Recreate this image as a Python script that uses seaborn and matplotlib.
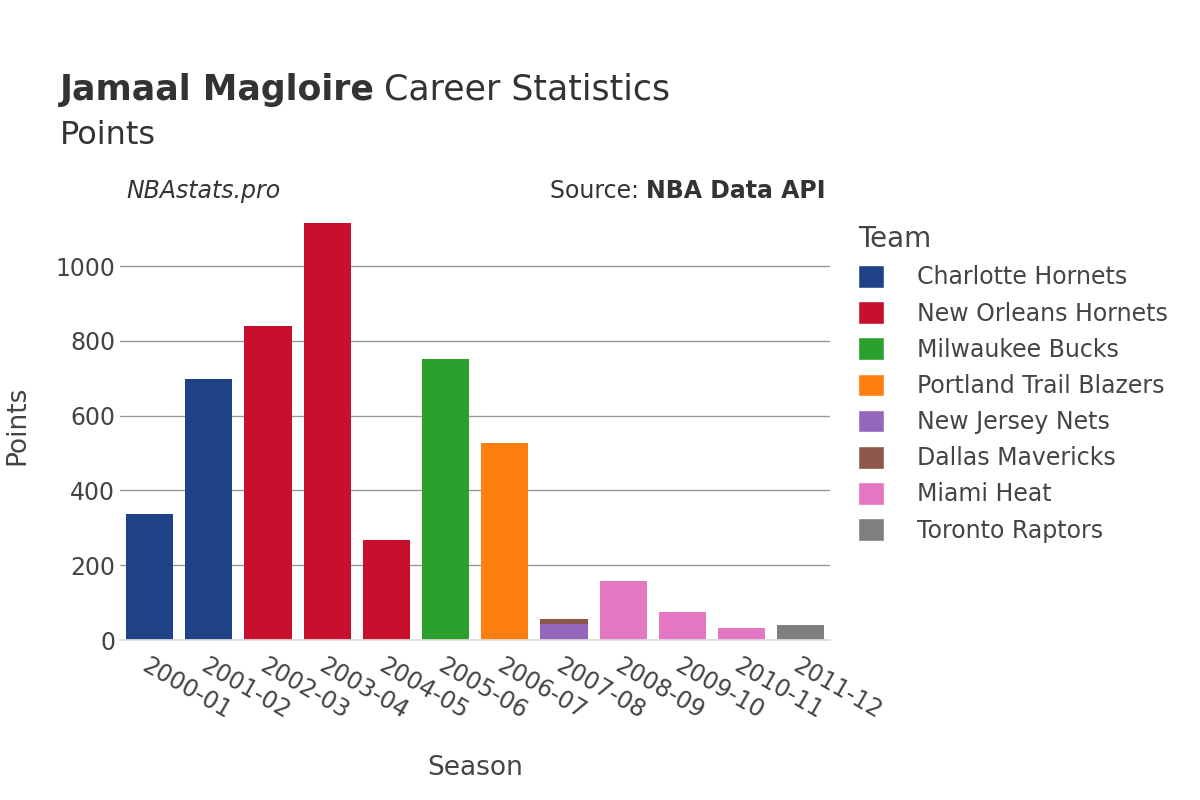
import matplotlib
matplotlib.use("Agg")
import matplotlib.pyplot as plt
import seaborn as sns
import pandas as pd
from matplotlib.patches import Patch

seasons = ["2000-01", "2001-02", "2002-03", "2003-04", "2004-05", "2005-06",
           "2006-07", "2007-08", "2008-09", "2009-10", "2010-11", "2011-12"]
teams = ["Charlotte Hornets", "New Orleans Hornets", "Milwaukee Bucks",
         "Portland Trail Blazers", "New Jersey Nets", "Dallas Mavericks",
         "Miami Heat", "Toronto Raptors"]
colors = ["#1f4287", "#c8102e", "#2ca02c", "#ff7f0e", "#9467bd", "#8c564b",
          "#e377c2", "#7f7f7f"]
row_season = ["2000-01", "2001-02", "2002-03", "2003-04", "2004-05", "2005-06",
              "2006-07", "2007-08", "2007-08", "2008-09", "2009-10", "2010-11", "2011-12"]
row_team = ["Charlotte Hornets", "Charlotte Hornets", "New Orleans Hornets",
            "New Orleans Hornets", "New Orleans Hornets", "Milwaukee Bucks",
            "Portland Trail Blazers", "New Jersey Nets", "Dallas Mavericks",
            "Miami Heat", "Miami Heat", "Miami Heat", "Toronto Raptors"]
row_points = [338, 698, 840, 1116, 268, 751, 528, 43, 12, 158, 75, 33, 40]

df = pd.DataFrame({"Season": row_season, "Team": row_team, "Points": row_points})
df["Top"] = df.groupby("Season")["Points"].cumsum()
pal = dict(zip(teams, colors))

sns.set_theme(style="white", font="DejaVu Sans")
fig = plt.figure(figsize=(12, 8), dpi=100)
ax = fig.add_axes([0.1, 0.2, 0.592, 0.5375])

# stacked: draw the top segment first, then the lower ones over it
first = df.groupby("Season").tail(1)
rest = df.drop(first.index)
for part in [first, rest]:
    sns.barplot(data=part, x="Season", y="Top", hue="Team", palette=pal,
                order=seasons, dodge=False, width=0.8, ax=ax, legend=False,
                saturation=1, linewidth=0)

ax.set_ylim(0, 1150)
ax.set_yticks([0, 200, 400, 600, 800, 1000])
ax.grid(axis="y", color="#999999", linewidth=1)
ax.set_axisbelow(True)
for s in ["top", "right", "left"]:
    ax.spines[s].set_visible(False)
ax.spines["bottom"].set_color("#dddddd")
ax.tick_params(axis="both", labelsize=17, colors="#444444", length=0)
ax.tick_params(axis="x", pad=10)
plt.setp(ax.get_xticklabels(), rotation=-30, ha="left", rotation_mode="anchor")
ax.set_xlabel("Season", fontsize=19, color="#444444", labelpad=22)
ax.set_ylabel("Points", fontsize=19, color="#444444", labelpad=18)

fig.canvas.draw()
r = fig.canvas.get_renderer()
inv = fig.transFigure.inverted()

t1 = fig.text(0.05, 0.875, "Jamaal Magloire", fontsize=25, fontweight="bold", color="#333333")
w = inv.transform(t1.get_window_extent(r))[:, 0]
fig.text(w[1] + 0.008, 0.875, "Career Statistics", fontsize=25, color="#333333")
fig.text(0.05, 0.82, "Points", fontsize=23, color="#333333")
fig.text(0.105, 0.752, "NBAstats.pro", fontsize=17, style="italic", color="#333333")
t2 = fig.text(0.688, 0.752, "NBA Data API", fontsize=17, fontweight="bold",
              color="#333333", ha="right")
w2 = inv.transform(t2.get_window_extent(r))[:, 0]
fig.text(w2[0], 0.752, "Source: ", fontsize=17, color="#333333", ha="right")

handles = [Patch(facecolor=c, label=t) for t, c in zip(teams, colors)]
leg = fig.legend(handles=handles, title="Team", loc="upper left",
                 bbox_to_anchor=(0.697, 0.745), frameon=False, fontsize=17,
                 title_fontsize=20, handlelength=1.1, handleheight=1.1,
                 labelspacing=0.5, handletextpad=1.4)
leg._legend_box.align = "left"
for t in leg.get_texts():
    t.set_color("#444444")
leg.get_title().set_color("#444444")

fig.savefig("out.png")
